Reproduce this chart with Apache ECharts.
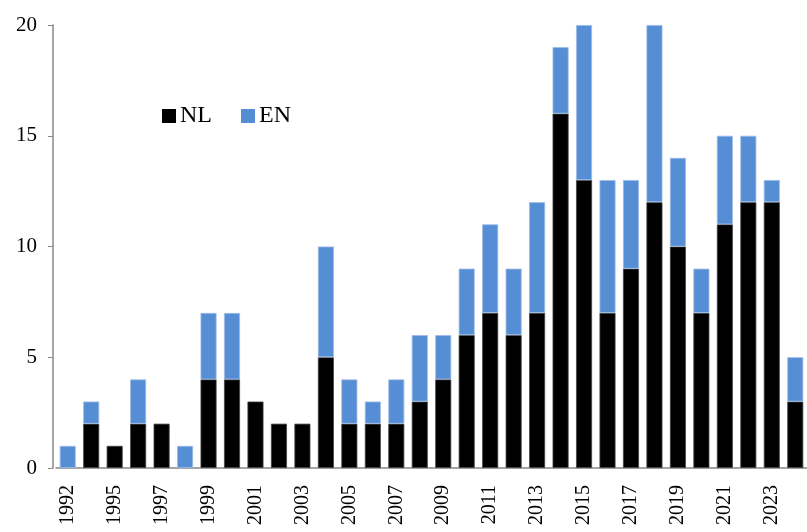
<!DOCTYPE html>
<html>
<head>
<meta charset="utf-8">
<script src="https://cdn.jsdelivr.net/npm/echarts@6/dist/echarts.min.js"></script>
<style>html,body{margin:0;padding:0;background:#fff;}#c{width:807px;height:532px;}</style>
</head>
<body>
<div id="c"></div>
<script>
const years = ['1992','1994','1995','1996','1997','1998','1999','2000','2001','2002','2003','2004','2005','2006','2007','2008','2009','2010','2011','2012','2013','2014','2015','2016','2017','2018','2019','2020','2021','2022','2023','2024'];
const nl = [0,2,1,2,2,0,4,4,3,2,2,5,2,2,2,3,4,6,7,6,7,16,13,7,9,12,10,7,11,12,12,3];
const en = [1,1,0,2,0,1,3,3,0,0,0,5,2,1,2,3,2,3,4,3,5,3,7,6,4,8,4,2,4,3,1,2];
const yTicks = [0,5,10,15,20];

const font = 'Liberation Serif';
const noZero = arr => arr.map(v => (v === 0 ? null : v));
const chart = echarts.init(document.getElementById('c'));
chart.setOption({
  animation: false,
  backgroundColor: '#fff',
  textStyle: { fontFamily: font },
  legend: {
    left: 157, top: 99,
    itemWidth: 14, itemHeight: 14, itemGap: 29,
    icon: 'rect',
    itemStyle: { borderWidth: 0 },
    textStyle: { fontFamily: font, fontSize: 24, color: '#000', padding: [0, 0, 0, -1] },
    data: ['NL', 'EN']
  },
  grid: { left: 56, right: -7, top: 25, bottom: 64, containLabel: false },
  xAxis: {
    type: 'category',
    data: years,
    axisLine: { lineStyle: { color: '#888', width: 1.5 } },
    axisTick: { show: false },
    axisLabel: { interval: 1, rotate: 90, margin: 17, fontFamily: font, fontSize: 20, color: '#000' }
  },
  yAxis: {
    type: 'value',
    min: yTicks[0], max: yTicks[yTicks.length - 1], interval: 5,
    offset: 3,
    splitLine: { show: false },
    axisLine: { show: true, lineStyle: { color: '#888', width: 1.5 } },
    axisTick: { show: true, length: 5, lineStyle: { color: '#888' } },
    axisLabel: { margin: 16, fontFamily: font, fontSize: 21, color: '#000' }
  },
  series: [
    { name: 'NL', type: 'bar', stack: 'a', data: noZero(nl), barWidth: 16,
      itemStyle: { color: '#000', borderColor: '#444', borderWidth: 0.8 } },
    { name: 'EN', type: 'bar', stack: 'a', data: noZero(en), barWidth: 16,
      itemStyle: { color: '#558ED5', borderColor: '#9DBBE6', borderWidth: 0.8 } }
  ]
});
</script>
</body>
</html>
